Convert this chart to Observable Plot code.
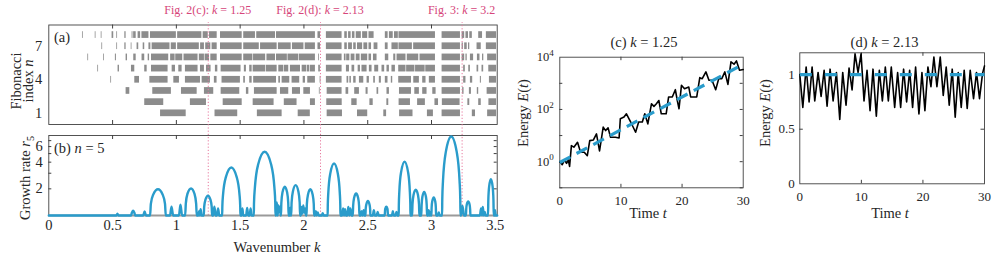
<!DOCTYPE html>
<html><head><meta charset="utf-8">
<script src="https://cdn.jsdelivr.net/npm/d3@7"></script>
<script src="https://cdn.jsdelivr.net/npm/@observablehq/plot@0.6"></script>
<style>
body{margin:0;background:#fff;}
#root{position:relative;width:997px;height:257px;overflow:hidden;background:#fff;}
#root > svg{position:absolute;}
</style></head><body><div id="root"></div>
<script>
const FONT = '"Liberation Serif","DejaVu Serif",serif';
const INK = "#262626", FRAME = "#404040", BLUE = "#2a9ccb", GRAY = "#8c8c8c", PINK = "#d6457a", PINKLINE = "#e8799f";

// ---------- Panel (a): instability bands for Fibonacci index n ----------
const row1 = [[0.876,1.077],[1.303,1.481],[1.635,1.829],[1.955,2.05],[2.182,2.302],[2.42,2.50],[2.626,2.648],[2.75,2.855],[2.968,3.015],[3.083,3.227],[3.32,3.345],[3.44,3.51]];
const row2 = [[0.752,0.901],[1.110,1.236],[1.367,1.516],[1.602,1.766],[1.846,1.946],[2.051,2.09],[2.179,2.30],[2.375,2.417],[2.517,2.543],[2.65,2.665],[2.746,2.835],[2.891,2.952],[3.027,3.055],[3.085,3.224],[3.285,3.30],[3.37,3.39],[3.45,3.51]];
const row3 = [[0.606,0.635],[0.815,0.961],[1.040,1.163],[1.220,1.293],[1.351,1.497],[1.549,1.568],[1.612,1.790],[1.816,1.881],[1.910,1.973],[1.999,2.051],[2.121,2.127],[2.182,2.299],[2.33,2.351],[2.398,2.435],[2.487,2.503],[2.573,2.586],[2.651,2.670],[2.749,2.843],[2.869,2.905],[2.931,2.965],[3.010,3.036],[3.083,3.227],[3.244,3.255],[3.297,3.313],[3.359,3.370],[3.436,3.51]];
const row4 = [[0.486,0.492],[0.674,0.711],[0.792,0.935],[0.980,1.024],[1.071,1.189],[1.202,1.267],[1.298,1.319],[1.358,1.502],[1.528,1.541],[1.575,1.594],[1.606,1.785],[1.803,1.816],[1.829,1.889],[1.907,1.967],[1.994,2.012],[2.030,2.090],[2.127,2.133],[2.176,2.299],[2.338,2.351],[2.36,2.372],[2.390,2.409],[2.435,2.469],[2.495,2.513],[2.547,2.560],[2.591,2.607],[2.638,2.659],[2.685,2.696],[2.743,2.843],[2.861,2.905],[2.931,2.957],[2.983,3.031],[3.083,3.227],[3.252,3.270],[3.305,3.323],[3.383,3.391],[3.454,3.51]];
const row5 = [[0.384,0.39],[0.543,0.554],[0.648,0.674],[0.752,0.771],[0.805,0.935],[0.967,0.993],[1.019,1.045],[1.071,1.170],[1.189,1.220],[1.236,1.272],[1.306,1.325],[1.351,1.507],[1.533,1.549],[1.575,1.594],[1.602,1.700],[1.705,1.790],[1.803,1.84],[1.845,1.881],[1.894,1.973],[1.986,2.02],[2.025,2.045],[2.05,2.090],[2.116,2.129],[2.176,2.299],[2.333,2.357],[2.377,2.398],[2.425,2.443],[2.455,2.495],[2.513,2.534],[2.555,2.586],[2.612,2.633],[2.651,2.670],[2.690,2.717],[2.743,2.80],[2.805,2.87],[2.875,2.95],[2.955,3.031],[3.083,3.227],[3.252,3.265],[3.292,3.305],[3.357,3.370],[3.396,3.409],[3.449,3.51]];
const row6 = [[0.306,0.312],[0.429,0.435],[0.522,0.530],[0.606,0.617],[0.666,0.685],[0.731,0.752],[0.779,0.79],[0.805,0.94],[0.955,0.99],[0.995,1.05],[1.06,1.17],[1.18,1.22],[1.225,1.26],[1.27,1.32],[1.346,1.516],[1.528,1.60],[1.605,1.70],[1.71,1.777],[1.785,1.87],[1.875,1.96],[1.965,2.09],[2.116,2.122],[2.176,2.299],[2.317,2.33],[2.335,2.36],[2.37,2.40],[2.41,2.44],[2.45,2.50],[2.51,2.53],[2.545,2.573],[2.638,2.665],[2.704,2.72],[2.73,2.80],[2.81,2.90],[2.91,3.031],[3.083,3.227],[3.24,3.26],[3.27,3.28],[3.305,3.33],[3.36,3.38],[3.40,3.41],[3.44,3.51]];
const row7 = [[0.416,0.422],[0.533,0.539],[0.596,0.606],[0.646,0.652],[0.692,0.705],[0.74,0.752],[0.785,0.8],[0.81,0.95],[0.96,1.0],[1.01,1.18],[1.19,1.22],[1.23,1.27],[1.28,1.32],[1.346,1.516],[1.528,1.65],[1.66,1.79],[1.80,1.90],[1.91,2.0],[2.01,2.09],[2.11,2.13],[2.176,2.299],[2.32,2.34],[2.35,2.38],[2.39,2.41],[2.42,2.46],[2.47,2.50],[2.51,2.53],[2.55,2.58],[2.638,2.66],[2.69,2.74],[2.745,2.85],[2.86,3.031],[3.083,3.227],[3.24,3.25],[3.26,3.28],[3.29,3.30],[3.357,3.39],[3.43,3.51]];
const row8 = [[0.264,0.270],[0.364,0.370],[0.411,0.417],[0.496,0.509],[0.533,0.539],[0.596,0.606],[0.653,0.66],[0.665,0.685],[0.70,0.72],[0.73,0.785],[0.797,1.0],[1.01,1.2],[1.21,1.25],[1.26,1.32],[1.346,1.516],[1.528,1.62],[1.63,1.777],[1.785,2.09],[2.11,2.13],[2.176,2.299],[2.32,2.34],[2.35,2.37],[2.38,2.40],[2.41,2.45],[2.46,2.50],[2.51,2.55],[2.638,2.66],[2.67,2.70],[2.71,2.74],[2.745,3.031],[3.083,3.227],[3.24,3.26],[3.27,3.29],[3.30,3.32],[3.37,3.40],[3.43,3.51]];
const bandRows = [row1,row2,row3,row4,row5,row6,row7,row8];
const nTicks = [1,4,7];
const kTicks = [0,0.5,1,1.5,2,2.5,3,3.5];
const kTickLabels = ["0","0.5","1","1.5","2","2.5","3","3.5"];

// ---------- Panel (b): growth rate r5(k) ----------
const growth = [
[0,1],[0.530,1],[0.538,1.05],[0.546,1],
[0.644,1],[0.652,1.08],[0.661,1.13],[0.670,1.08],[0.678,1],
[0.740,1],[0.751,1.11],[0.762,1],
[0.794,1],[0.800,1.35],[0.819,1.73],[0.856,1.98],[0.892,1.73],[0.911,1.35],[0.917,1],
[0.950,1],[0.962,1.26],[0.975,1],
[1.020,1],[1.032,1.32],[1.045,1],
[1.069,1],[1.074,1.36],[1.087,1.76],[1.115,2.02],[1.142,1.76],[1.155,1.36],[1.160,1],
[1.172,1],[1.178,1.12],[1.184,1],[1.190,1.18],[1.198,1],
[1.215,1],[1.218,1.25],[1.228,1.51],[1.248,1.67],[1.267,1.51],[1.277,1.25],[1.280,1],
[1.288,1],[1.298,1.26],[1.308,1],[1.318,1],[1.327,1.2],[1.336,1],
[1.359,1],[1.3605,1.28],[1.366,1.72],[1.388,2.71],[1.431,3.48],[1.473,2.71],[1.495,1.72],[1.5005,1.28],[1.502,1],
[1.512,1],[1.518,1.2],[1.524,1],[1.547,1],[1.555,1.22],[1.563,1],[1.575,1],[1.582,1.2],[1.589,1],
[1.607,1],[1.6087,1.39],[1.6155,2.06],[1.641,3.76],[1.692,5.24],[1.743,3.76],[1.7685,2.06],[1.7753,1.39],[1.777,1],
[1.782,1],[1.788,1.4],[1.794,1],[1.800,1.3],[1.806,1.1],[1.812,1.25],[1.8175,1],
[1.820,1],[1.823,1.39],[1.832,1.83],[1.850,2.12],[1.868,1.83],[1.877,1.39],[1.880,1],
[1.886,1],[1.892,1.22],[1.8975,1],
[1.900,1],[1.9035,1.41],[1.914,1.88],[1.935,2.2],[1.956,1.88],[1.9665,1.41],[1.970,1],
[1.976,1],[1.982,1.25],[1.988,1.05],[1.995,1.3],[2.002,1.08],[2.009,1.2],[2.016,1],
[2.020,1],[2.023,1.35],[2.032,1.73],[2.050,1.98],[2.068,1.73],[2.077,1.35],[2.080,1],
[2.086,1],[2.093,1.12],[2.100,1],[2.108,1.08],[2.116,1],[2.140,1],[2.147,1.06],[2.154,1],
[2.186,1],[2.187,1.31],[2.191,1.80],[2.206,2.95],[2.236,3.86],[2.266,2.95],[2.281,1.80],[2.285,1.31],[2.286,1],
[2.300,1],[2.307,1.2],[2.314,1],[2.322,1.18],[2.330,1],[2.340,1],[2.348,1.25],[2.356,1],[2.364,1.2],[2.372,1],
[2.383,1],[2.3856,1.28],[2.393,1.58],[2.409,1.77],[2.425,1.58],[2.4324,1.28],[2.435,1],
[2.445,1],[2.452,1.12],[2.460,1],[2.468,1.15],[2.475,1],
[2.482,1],[2.484,1.18],[2.490,1.35],[2.5015,1.46],[2.513,1.35],[2.519,1.18],[2.521,1],
[2.540,1],[2.548,1.15],[2.556,1],[2.570,1],[2.578,1.1],[2.586,1],
[2.633,1],[2.637,1.18],[2.646,1.26],[2.655,1.18],[2.659,1],
[2.690,1],[2.697,1.12],[2.704,1],[2.718,1],[2.725,1.1],[2.732,1],
[2.743,1],[2.744,1.32],[2.7476,1.84],[2.761,3.05],[2.789,4.04],[2.817,3.05],[2.8304,1.84],[2.834,1.32],[2.835,1],
[2.840,1],[2.844,1.15],[2.847,1],
[2.848,1],[2.851,1.34],[2.859,1.70],[2.8765,1.95],[2.894,1.70],[2.902,1.34],[2.905,1],
[2.910,1],[2.914,1.12],[2.918,1],
[2.920,1],[2.9225,1.31],[2.929,1.64],[2.9425,1.85],[2.956,1.64],[2.9625,1.31],[2.965,1],
[2.972,1],[2.978,1.15],[2.984,1],[2.988,1.1],[2.994,1],
[2.999,1],[3.001,1.23],[3.006,1.45],[3.0175,1.6],[3.029,1.45],[3.034,1.23],[3.036,1],
[3.050,1],[3.057,1.08],[3.064,1],
[3.083,1],[3.0844,1.51],[3.090,2.45],[3.112,5.19],[3.155,7.8],[3.198,5.19],[3.220,2.45],[3.2256,1.51],[3.227,1],
[3.232,1],[3.243,1.28],[3.255,1],
[3.270,1],[3.272,1.17],[3.277,1.34],[3.2875,1.44],[3.298,1.34],[3.303,1.17],[3.305,1],
[3.380,1],[3.388,1.2],[3.396,1],[3.402,1.25],[3.410,1],[3.418,1.1],[3.424,1],
[3.443,1],[3.4455,1.51],[3.452,2.13],[3.4655,2.57],[3.479,2.13],[3.4855,1.51],[3.488,1],
[3.493,1],[3.498,1.15],[3.503,1],[3.515,1]
];
const rTicks = [2,4,6];
const rMinorTicks = [2,3,4,5,6,7];
const figLines = [1.25, 2.13, 3.24];
const figLabels = [["Fig. 2(c): ","k"," = 1.25"],["Fig. 2(d): ","k"," = 2.13"],["Fig. 3: ","k"," = 3.2"]];

// ---------- Panel (c): energy, k = 1.25 ----------
const tC = [0,0.4,0.8,1.1,1.4,1.6,1.9,2.3,2.9,3.4,4.0,4.5,4.9,5.5,6.0,6.5,7.1,7.5,7.9,8.3,9.1,9.7,9.9,10.5,10.9,11.6,12.4,12.9,13.5,13.9,14.4,15.0,15.4,15.8,16.2,16.6,17.4,17.8,18.4,18.9,19.2,19.5,19.9,20.4,21.1,21.4,22.4,22.9,23.3,23.9,24.4,24.9,25.5,26.0,26.5,27.0,27.5,28.0,28.5,28.9,29.4,30];
const eC = [1.0,0.77,1.16,0.86,1.16,0.66,4.1,3.6,5.5,2.3,2.3,1.7,6.4,6.8,11.6,2.6,21,15.5,19.7,8.6,8.6,8.1,44,51,68,33,13.4,33,33,68,28,166,131,166,220,68,68,300,300,570,235,106,840,620,720,300,300,1650,1510,2740,1310,1310,570,1510,1510,2740,910,6600,5400,7200,3160,3370];
const fitCT = [0, 30];
const fitCE = [0.93, 5400];
const cYTicks = [1, 100, 10000];
const cYTickExp = ["0","2","4"];
const cMinorY = [0.1, 1, 10, 100, 1000];
const tTicks = [0,10,20,30];

// ---------- Panel (d): energy, k = 2.13 ----------
const tD = [0,0.49,1.03,1.51,2.0,2.43,2.97,3.46,3.95,4.43,4.92,5.41,5.95,6.49,6.97,7.51,8.0,8.49,8.97,9.46,9.95,10.43,10.92,11.41,11.89,12.43,12.92,13.41,13.89,14.38,14.86,15.41,15.89,16.38,16.86,17.35,17.84,18.32,18.81,19.35,19.84,20.32,20.81,21.3,21.78,22.27,22.81,23.3,23.78,24.27,24.76,25.24,25.73,26.22,26.7,27.19,27.68,28.22,28.7,29.19,29.68,30];
const eD = [1.0,0.70,1.07,0.75,1.07,0.76,1.02,0.80,1.04,0.71,1.05,0.76,1.02,0.59,1.02,0.72,1.06,0.86,1.19,1.02,1.19,0.76,1.04,0.67,1.05,0.62,1.04,0.76,1.07,0.76,1.07,0.70,1.02,0.70,1.05,0.75,1.04,0.70,1.07,0.64,1.02,0.67,1.07,0.89,1.16,0.89,1.16,0.81,1.07,0.72,1.05,0.61,1.02,0.70,1.04,0.69,1.04,0.78,1.02,0.78,1.01,1.08];
const fitDT = [0, 30];
const fitDE = [1, 1];
const dYTicks = [0, 0.5, 1];
const dYTickLabels = ["0","0.5","1"];

// ---------- build ----------
const root = document.getElementById("root");
const baseStyle = (fs) => ({fontFamily: FONT, fontSize: fs, color: INK, background: "transparent", overflow: "visible"});
function place(svg, left, top){ svg.style.position="absolute"; svg.style.left=left+"px"; svg.style.top=top+"px"; root.appendChild(svg); return svg; }

const bars = bandRows.flatMap((r, i) => r.map(([k0, k1]) => ({n: i + 1, k0, k1})));
const A = {w:500, h:257, ml:48.3, mr:3.3, mt:24.5, mb:133};
const aIH = A.h - A.mt - A.mb;
const plotA = place(Plot.plot({
  width:A.w, height:A.h, marginLeft:A.ml, marginRight:A.mr, marginTop:A.mt, marginBottom:A.mb,
  x:{domain:[0,3.515], axis:null},
  y:{domain:[0,8.9], ticks:nTicks, tickSize:0, tickPadding:6.5, label:null},
  style: baseStyle("14.5px"),
  marks:[
    Plot.rect(bars, {x1:"k0", x2:"k1", y1:d => d.n - 0.3, y2:d => d.n + 0.3, fill:GRAY}),
    Plot.frame({stroke:FRAME, strokeWidth:0.9}),
    Plot.ruleX(kTicks.slice(1,7), {insetBottom:aIH-4, stroke:FRAME}),
    Plot.ruleX(kTicks.slice(1,7), {insetTop:aIH-4, stroke:FRAME})
  ]
}), 0, 0);

const B = {w:500, h:257, ml:48.3, mr:3.3, mt:135, mb:42};
const bIH = B.h - B.mt - B.mb, bIW = B.w - B.ml - B.mr;
const plotB = place(Plot.plot({
  width:B.w, height:B.h, marginLeft:B.ml, marginRight:B.mr, marginTop:B.mt, marginBottom:B.mb,
  x:{domain:[0,3.515], ticks:kTicks, tickFormat:(d) => kTickLabels[kTicks.indexOf(d)], tickSize:0, tickPadding:4, label:null},
  y:{type:"log", domain:[1,8], ticks:rTicks, tickFormat:(d) => String(d), tickSize:0, tickPadding:6, label:null},
  style: baseStyle("14.5px"),
  marks:[
    Plot.ruleX(figLines, {y1:1, y2:150, stroke:PINKLINE, strokeWidth:1, strokeDasharray:"1.2,2"}),
    Plot.frame({stroke:FRAME, strokeWidth:0.9}),
    Plot.ruleX(kTicks.slice(1,7), {insetBottom:bIH-4, stroke:FRAME}),
    Plot.ruleY(rMinorTicks, {insetRight:bIW-3, stroke:FRAME}),
    Plot.ruleY(rMinorTicks, {insetLeft:bIW-3, stroke:FRAME}),
    Plot.ruleY([1], {stroke:"#9a9a9a", strokeWidth:2}),
    Plot.line(growth, {x:d => d[0], y:d => d[1], stroke:BLUE, strokeWidth:2.4, curve:"monotone-x"})
  ]
}), 0, 0);

const C = {w:260, h:257, ml:59.3, mr:17.3, mt:56.7, mb:69.7};
const cIH = C.h - C.mt - C.mb, cIW = C.w - C.ml - C.mr;
const energyC = tC.map((t, i) => ({t, e: eC[i]}));
const fitC = fitCT.map((t, i) => ({t, e: fitCE[i]}));
const plotC = place(Plot.plot({
  width:C.w, height:C.h, marginLeft:C.ml, marginRight:C.mr, marginTop:C.mt, marginBottom:C.mb,
  x:{domain:[0,30], ticks:tTicks, tickFormat:(d) => String(d), tickSize:0, tickPadding:7.5, label:null},
  y:{type:"log", domain:[0.1,1e4], axis:null},
  style: baseStyle("13px"),
  marks:[
    Plot.frame({stroke:FRAME, strokeWidth:0.9}),
    Plot.ruleX([10,20], {insetBottom:cIH-3.5, stroke:FRAME}),
    Plot.ruleX([10,20], {insetTop:cIH-3.5, stroke:FRAME}),
    Plot.ruleY(cMinorY, {insetRight:cIW-3, stroke:FRAME}),
    Plot.ruleY(cMinorY, {insetLeft:cIW-3, stroke:FRAME}),
    Plot.line(energyC, {x:"t", y:"e", stroke:"#000", strokeWidth:1.6}),
    Plot.line(fitC, {x:"t", y:"e", stroke:BLUE, strokeWidth:3.2, strokeDasharray:"12,7", strokeLinecap:"butt"})
  ]
}), 500, 0);

const D = {w:237, h:257, ml:39.3, mr:13, mt:52.3, mb:73.7};
const dIH = D.h - D.mt - D.mb, dIW = D.w - D.ml - D.mr;
const energyD = tD.map((t, i) => ({t, e: eD[i]}));
const fitD = fitDT.map((t, i) => ({t, e: fitDE[i]}));
const plotD = place(Plot.plot({
  width:D.w, height:D.h, marginLeft:D.ml, marginRight:D.mr, marginTop:D.mt, marginBottom:D.mb,
  x:{domain:[0,30], ticks:tTicks, tickFormat:(d) => String(d), tickSize:0, tickPadding:7.5, label:null},
  y:{domain:[0,1.2], ticks:dYTicks, tickFormat:(d) => dYTickLabels[dYTicks.indexOf(d)], tickSize:0, tickPadding:5, label:null},
  style: baseStyle("13px"),
  marks:[
    Plot.frame({stroke:FRAME, strokeWidth:0.9}),
    Plot.ruleX([10,20], {insetBottom:dIH-3.5, stroke:FRAME}),
    Plot.ruleX([10,20], {insetTop:dIH-3.5, stroke:FRAME}),
    Plot.ruleY([0.5,1], {insetRight:dIW-3.5, stroke:FRAME}),
    Plot.ruleY([0.5,1], {insetLeft:dIW-3.5, stroke:FRAME}),
    Plot.line(energyD, {x:"t", y:"e", stroke:"#000", strokeWidth:1.6}),
    Plot.line(fitD, {x:"t", y:"e", stroke:BLUE, strokeWidth:3.2, strokeDasharray:"12,13", strokeLinecap:"butt"})
  ]
}), 760, 0);

// ---------- text overlay ----------
const ov = d3.select(root).append("svg").attr("width",997).attr("height",257)
  .style("position","absolute").style("left","0px").style("top","0px")
  .style("font-family",FONT).style("white-space","pre").style("pointer-events","none");
function label(x, y, parts, {size=14.5, anchor="start", rotate=false, fill=INK} = {}){
  const t = ov.append("text").attr("x",x).attr("y",y).attr("font-size",size).attr("text-anchor",anchor).attr("fill",fill);
  if (rotate) t.attr("transform",`rotate(-90,${x},${y})`);
  for (const p of parts){
    const [s, st] = Array.isArray(p) ? p : [p, ""];
    const ts = t.append("tspan").text(s);
    if (st === "i") ts.attr("font-style","italic");
    if (st === "sub") ts.attr("font-size",size*0.7).attr("dy",size*0.25);
    if (st === "sup") ts.attr("font-size",size*0.72).attr("dy",-size*0.42);
  }
}
// pink reference labels
const xA = plotA.scale("x");
figLines.forEach((k, i) => {
  const [a, b, c] = figLabels[i];
  label(xA.apply(k), 14, [a, [b,"i"], c], {size:12, anchor:"middle", fill:PINK});
});
label(54, 41.5, ["(a)"]);
label(20.5, 81, ["Fibonacci"], {rotate:true, anchor:"middle"});
label(33, 81, ["index ", ["n","i"]], {rotate:true, anchor:"middle"});
label(54, 153, ["(b) ", ["n","i"], " = 5"]);
label(30, 178, ["Growth rate ", ["r","i"], ["5","sub"]], {rotate:true, anchor:"middle"});
label(277, 252, ["Wavenumber ", ["k","i"]], {anchor:"middle"});
// panel (c)
label(644, 46.5, ["(c) ", ["k","i"], " = 1.25"], {anchor:"middle"});
label(528, 113, ["Energy ", ["E","i"], "(", ["t","i"], ")"], {rotate:true, anchor:"middle"});
label(648, 218, ["Time ", ["t","i"]], {anchor:"middle"});
const yC = plotC.scale("y");
cYTicks.forEach((v, i) => {
  label(500 + C.ml - 5.5, yC.apply(v) + 4.5, ["10", [cYTickExp[i], "sup"]], {size:12.5, anchor:"end"});
});
// panel (d)
label(884.5, 46.5, ["(d) ", ["k","i"], " = 2.13"], {anchor:"middle"});
label(769.5, 113, ["Energy ", ["E","i"], "(", ["t","i"], ")"], {rotate:true, anchor:"middle"});
label(890, 218, ["Time ", ["t","i"]], {anchor:"middle"});
</script></body></html>
